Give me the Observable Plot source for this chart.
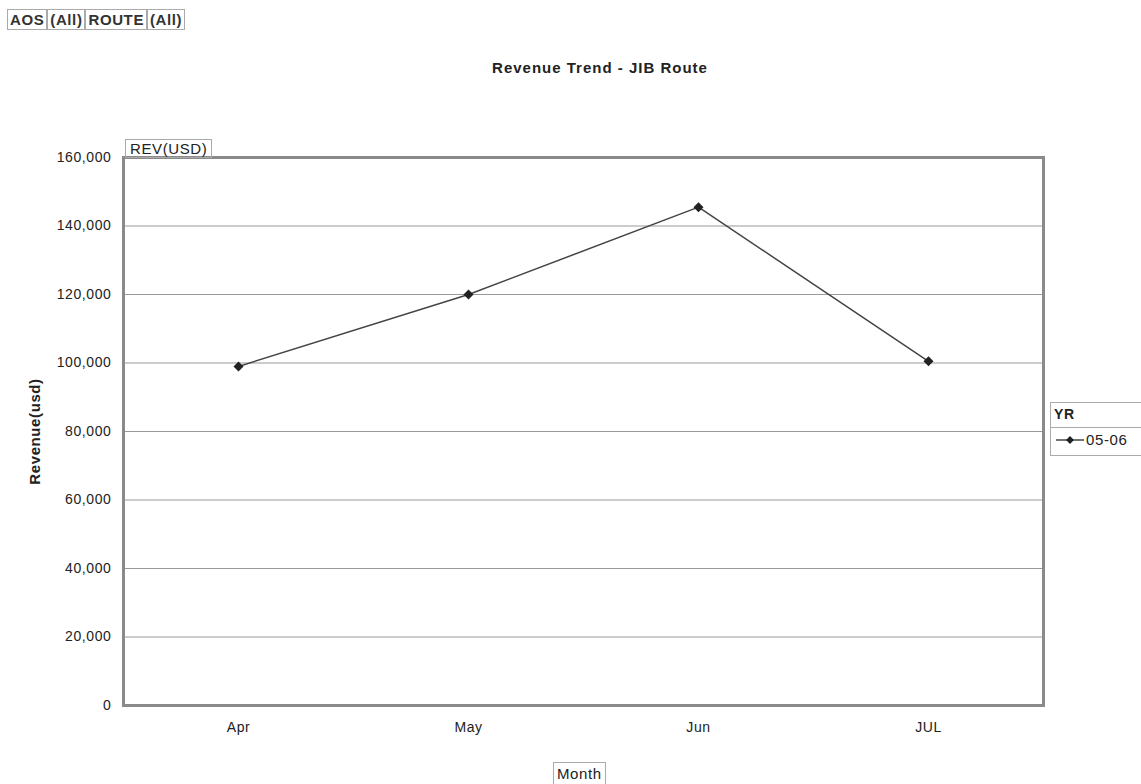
<!DOCTYPE html>
<html>
<head>
<meta charset="utf-8">
<script src="https://cdn.jsdelivr.net/npm/d3@7"></script>
<script src="https://cdn.jsdelivr.net/npm/@observablehq/plot@0.6"></script>
<style>
  body { margin: 0; background: #fff; font-family: "Liberation Sans", Arial, sans-serif; }
  #wrap { position: relative; width: 1141px; height: 784px; overflow: hidden; }
  #chart { position: absolute; left: 0; top: 0; }
  #chart svg text { letter-spacing: 0.6px; }
  .abs { position: absolute; color: #222; white-space: nowrap; letter-spacing: 0.6px; }
  .box { border: 1px solid #aaa; padding: 0 2px; }
</style>
</head>
<body>
<div id="wrap">
  <div id="chart"></div>
  <div class="abs" style="left:7px; top:9px; font-size:15px; font-weight:bold; color:#333; display:flex; line-height:19px;">
    <span class="box">AOS</span><span class="box">(All)</span><span class="box">ROUTE</span><span class="box">(All)</span>
  </div>
  <div class="abs" style="left:0; width:1200px; top:59px; text-align:center; font-size:15px; font-weight:bold; letter-spacing:1px;">Revenue Trend - JIB Route</div>
  <div class="abs box" style="left:125px; top:139px; font-size:15px; padding:0 4px; line-height:17px;">REV(USD)</div>
  <div class="abs" style="left:1050px; top:402px; width:100px; height:52px; border:1px solid #aaa;">
    <div style="font-size:14px; font-weight:bold; padding:2px 3px; height:20px; line-height:18px; border-bottom:1px solid #aaa;">YR</div>
    <div style="font-size:15px; padding:3px 3px; display:flex; align-items:center;">
      <svg width="34" height="12"><line x1="2" y1="6" x2="30" y2="6" stroke="#444" stroke-width="1.5"/><path d="M16 2 L20 6 L16 10 L12 6 Z" fill="#222"/></svg>
      <span style="margin-left:-2px">05-06</span>
    </div>
  </div>
  <div class="abs box" style="left:553px; top:762px; font-size:15px; padding:2px 3px; line-height:18px;">Month</div>
</div>
<script>
const months = ["Apr", "May", "Jun", "JUL"];
const revenue = [99000, 120000, 145500, 100500];
const yTicks = [0, 20000, 40000, 60000, 80000, 100000, 120000, 140000, 160000];
const series = "05-06";

const data = months.map((m, i) => ({ month: m, rev: revenue[i], yr: series }));
const fmt = d3.format(",");

const chart = Plot.plot({
  width: 1141,
  height: 784,
  marginLeft: 123,
  marginRight: 98,
  marginTop: 157,
  marginBottom: 79,
  style: { fontFamily: "Liberation Sans, Arial, sans-serif", fontSize: "14px", color: "#222", background: "transparent" },
  x: { type: "point", domain: months, padding: 0.5, label: null },
  y: { domain: [0, 160000], ticks: yTicks, label: null },
  marks: [
    Plot.gridY(yTicks, { stroke: "#999", strokeOpacity: 1, strokeWidth: 1 }),
    Plot.frame({ stroke: "#8a8a8a", strokeWidth: 3 }),
    Plot.axisY(yTicks, { tickFormat: fmt, tickSize: 0, tickPadding: 12, fontSize: 14 }),
    Plot.axisX(months, { tickSize: 0, tickPadding: 17, fontSize: 14 }),
    Plot.text(["Revenue(usd)"], { frameAnchor: "left", textAnchor: "middle", dx: -88, rotate: -90, fontWeight: "bold", fontSize: 15 }),
    Plot.line(data, { x: "month", y: "rev", stroke: "#444", strokeWidth: 1.5 }),
    Plot.dot(data, { x: "month", y: "rev", symbol: "diamond2", r: 4.5, fill: "#222", stroke: "none" })
  ]
});
document.getElementById("chart").appendChild(chart);
</script>
</body>
</html>
